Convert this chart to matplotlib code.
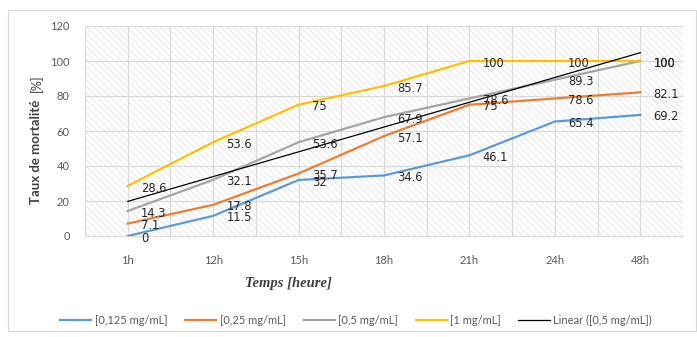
import matplotlib.pyplot as plt
import numpy as np
from matplotlib.patches import Rectangle

plt.rcParams['font.family'] = ['Lato', 'DejaVu Sans']
plt.rcParams['hatch.linewidth'] = 0.5
plt.rcParams['hatch.color'] = '#dedede'

hours = ['1h', '12h', '15h', '18h', '21h', '24h', '48h']
c0125 = [0, 11.5, 32, 34.6, 46.1, 65.4, 69.2]
c025 = [7.1, 17.8, 35.7, 57.1, 75, 78.6, 82.1]
c05 = [14.3, 32.1, 53.6, 67.9, 78.6, 89.3, 100]
c1 = [28.6, 53.6, 75, 85.7, 100, 100, 100]
series_names = ['[0,125 mg/mL]', '[0,25 mg/mL]', '[0,5 mg/mL]', '[1 mg/mL]']
colors = ['#5B9BD5', '#ED7D31', '#A5A5A5', '#FFC000']

fig = plt.figure(figsize=(6.97, 3.37), dpi=100)
fig.patches.append(Rectangle((8/697, 6/337), 1 - 9/697, 321/337, transform=fig.transFigure,
                             facecolor='none', edgecolor='#d9d9d9', lw=0.8))
ax = fig.add_axes([85/697, 101/337, 598/697, 210/337])

x = np.arange(len(hours))
ax.set_xlim(-0.5, len(hours) - 0.5)
ax.set_ylim(0, 120)

# hatched background
ax.add_patch(Rectangle((-0.5, 0), len(hours), 120, facecolor='white', hatch='\\\\\\\\\\',
                       edgecolor='#dedede', lw=0, zorder=0))
for v in np.arange(-0.5, len(hours), 0.5):
    ax.axvline(v, color='#d9d9d9', lw=0.8, zorder=1)
for h in range(20, 121, 20):
    ax.axhline(h, color='#d9d9d9', lw=0.8, zorder=1)

for vals, col, name in zip([c0125, c025, c05, c1], colors, series_names):
    ax.plot(x, vals, color=col, lw=1.6, label=name, zorder=3)
    for xi, v in zip(x, vals):
        ax.annotate(f'{v:g}', (xi, v), xytext=(9.5, -1.5), textcoords='offset points',
                    ha='left', va='center', fontsize=8.3, color='#262626',
                    family='DejaVu Sans', zorder=5)

# linear trend of the 0,5 mg/mL series
k, b = np.polyfit(x + 1, c05, 1)
ax.plot(x, k * (x + 1) + b, color='black', lw=0.9, label='Linear ([0,5 mg/mL])', zorder=4)

ax.set_xticks(x)
ax.set_xticklabels(hours)
ax.set_yticks(range(0, 121, 20))
ax.tick_params(length=0, labelsize=8, colors='#595959', pad=11)
ax.tick_params(axis='x', pad=14)
for s in ['top', 'right', 'left']:
    ax.spines[s].set_visible(False)
ax.spines['bottom'].set_color('#d9d9d9')

fig.text(36/697, 1 - 204/337, 'Taux de mortalité', rotation=90, ha='center', va='bottom',
         fontsize=9.5, fontweight='bold', color='#404040')
fig.text(36/697, 1 - 92/337, '[%]', rotation=90, ha='center', va='bottom',
         fontsize=9, color='#404040')
fig.text(288/697, 1 - 283/337, 'Temps [heure]', ha='center', va='center', fontsize=10.5,
         family='Liberation Serif', fontweight='bold', fontstyle='italic', color='#404040')

fig.legend(loc='center', bbox_to_anchor=(356/697, 1 - 320/337), ncol=5, frameon=False,
           fontsize=8, handlelength=2.8, columnspacing=1.6, handletextpad=0.3,
           labelcolor='#595959')

fig.savefig('out.png', dpi=100)
